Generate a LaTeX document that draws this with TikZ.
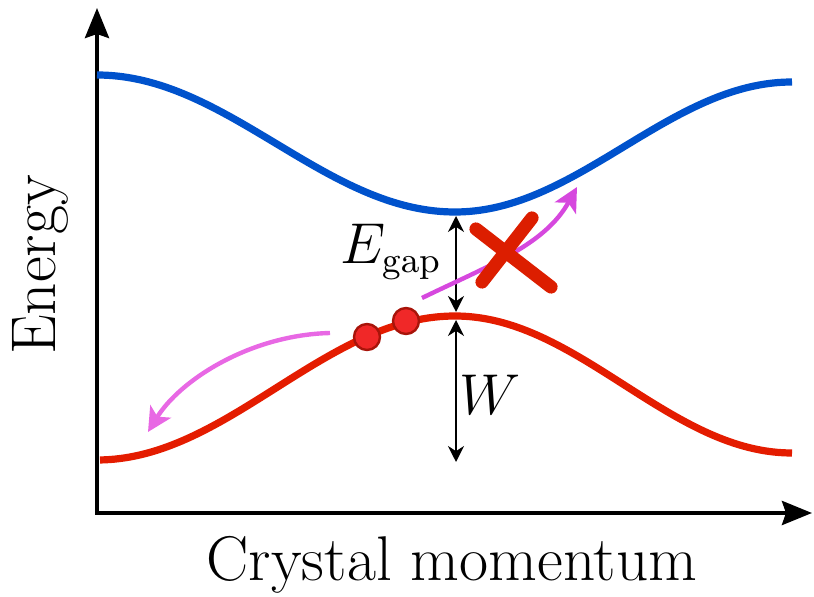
\documentclass[tikz,border=0pt]{standalone}
\usetikzlibrary{arrows.meta}
\definecolor{condblue}{RGB}{0,82,204}
\definecolor{valred}{RGB}{228,28,0}
\definecolor{hopleft}{RGB}{232,104,228}
\definecolor{hopright}{RGB}{214,72,222}
\definecolor{dotfill}{RGB}{240,40,40}
\definecolor{dotline}{RGB}{168,20,10}
\definecolor{crossred}{RGB}{220,30,0}

\begin{document}
\begin{tikzpicture}[x=0.25pt,y=-0.25pt, every node/.style={font=\fontsize{15.8}{19}\selectfont}]
    \tikzset{
        axis/.style={line width=1pt, -{Stealth[length=7.5pt, width=6pt, inset=1pt]}},
        band/.style={line width=1.8pt},
        hop/.style={line width=1.1pt, -{Stealth[length=6pt, width=6pt, inset=1.5pt]}},
        gaparrow/.style={line width=0.5pt, {Stealth[length=4pt, width=4pt]}-{Stealth[length=4pt, width=4pt]}},
        electron/.style={circle, draw=dotline, fill=dotfill, line width=0.6pt, minimum size=6.5pt, inner sep=0pt},
        quantity/.style={font=\fontsize{13.5}{16}\selectfont}
    }
    \useasboundingbox (0,0) rectangle (814,597);

    % axes
    \coordinate (origin) at (97,513);
    \coordinate (ytip) at (97,8);
    \coordinate (xtip) at (812,513);
    \draw[axis] (97,515) -- (ytip);
    \draw[axis] (95,513) -- (xtip);

    % bands
    \draw[band, condblue] plot[domain=97:455, samples=70] (\x, {212-68.5*(1-cos(0.50279*(\x-455)))})
        -- plot[domain=455:792, samples=70] (\x, {212-65*(1-cos(0.53412*(\x-455)))});
    \draw[band, valred] plot[domain=100:455, samples=70] (\x, {316+72*(1-cos(0.50279*(\x-455)))})
        -- plot[domain=455:792, samples=70] (\x, {316+68.5*(1-cos(0.53412*(\x-455)))});

    % gap and bandwidth
    \coordinate (cbmin) at (456,216);
    \coordinate (vbtop) at (456,312);
    \coordinate (wtop) at (456,320);
    \coordinate (vbbot) at (456,462);
    \draw[gaparrow] (cbmin) -- (vbtop);
    \draw[gaparrow] (wtop) -- (vbbot);
    \node[quantity] (egap) at (391,252) {$E_{\mathrm{gap}}$};
    \node[quantity] (wlabel) at (490,395) {$W$};

    % hopping arrows
    \coordinate (lstart) at (330,333);
    \coordinate (lend) at (148,432);
    \draw[hop, hopleft] (lstart) .. controls (250,335) and (180,380) .. (lend);
    \coordinate (rstart) at (422,298);
    \coordinate (rend) at (577,187);
    \draw[hop, hopright] (rstart) .. controls (490,265) and (545,245) .. (rend);

    % forbidden
    \draw[crossred, line width=3.3pt, line cap=round] (476,229) -- (551,287);
    \draw[crossred, line width=3.3pt, line cap=round] (532,218) -- (482,282);

    % electrons
    \node[electron] (e1) at (367,337) {};
    \node[electron] (e2) at (406,321) {};

    % axis labels
    \node[rotate=90] (ylabel) at (40,265) {Energy};
    \node (xlabel) at (452,565) {Crystal momentum};
\end{tikzpicture}
\end{document}
